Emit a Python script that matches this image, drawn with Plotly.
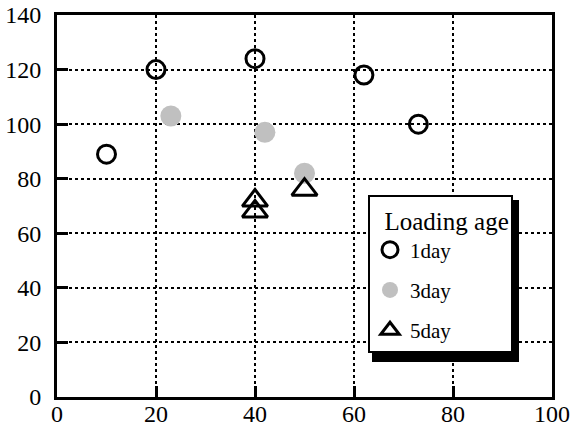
import plotly.graph_objects as go

x_1day = [10, 20, 40, 62, 73]
y_1day = [89, 120, 124, 118, 100]
x_3day = [23, 42, 50]
y_3day = [103, 97, 82]
x_5day = [40, 40, 50]
y_5day = [72, 68, 76]

FONT = "Liberation Serif"
W, H = 570, 430
# plot area in page pixels
PX0, PX1, PY0, PY1 = 57, 552, 15, 397
ML, MR, MT, MB = PX0, W - PX1, PY0, H - PY1

def px2paper_x(px):
    return (px - PX0) / (PX1 - PX0)

def px2paper_y(py):
    return (PY1 - py) / (PY1 - PY0)

fig = go.Figure()
fig.add_trace(go.Scatter(x=x_1day, y=y_1day, mode="markers", name="1day", legendgroup="a",
                         marker=dict(symbol="circle-open", size=18, color="black", line=dict(width=3, color="black"))))
fig.add_trace(go.Scatter(x=x_3day, y=y_3day, mode="markers", name="3day", legendgroup="b",
                         marker=dict(symbol="circle", size=21, color="#c0c0c0", line=dict(width=0))))
fig.add_trace(go.Scatter(x=x_5day, y=y_5day, mode="markers", name="5day", legendgroup="c",
                         marker=dict(symbol="triangle-up-open", size=22, color="black", line=dict(width=3, color="black"))))

axis_common = dict(
    showgrid=True, gridcolor="black", griddash="dot", gridwidth=1.5,
    showline=True, linecolor="black", linewidth=3, mirror=True,
    ticks="inside", ticklen=11, tickwidth=3, tickcolor="black",
    zeroline=False, dtick=20, automargin=False, ticklabeloverflow="allow",
    tickfont=dict(family=FONT, size=24, color="black"),
)

fig.update_layout(
    width=W, height=H,
    margin=dict(l=ML, r=MR, t=MT, b=MB),
    paper_bgcolor="white", plot_bgcolor="white",
    xaxis=dict(range=[0, 100], ticklabelstandoff=-7, **axis_common),
    yaxis=dict(range=[0, 140], ticklabelstandoff=8, **axis_common),
    showlegend=True,
    legend=dict(
        x=px2paper_x(368), y=px2paper_y(195), xanchor="left", yanchor="top",
        bgcolor="white", bordercolor="black", borderwidth=2,
        font=dict(family=FONT, size=21, color="black"),
        title=dict(text="\u00a0\u00a0Loading age", font=dict(family=FONT, size=25, color="black")),
        tracegroupgap=10,
    ),
    shapes=[dict(type="rect", xref="paper", yref="paper",
                 x0=px2paper_x(372), x1=px2paper_x(519),
                 y0=px2paper_y(362), y1=px2paper_y(200),
                 fillcolor="black", line=dict(width=0), layer="above")],
)

fig.write_html("out.html", config={"displayModeBar": False},
               post_script="document.body.style.margin='0';")
